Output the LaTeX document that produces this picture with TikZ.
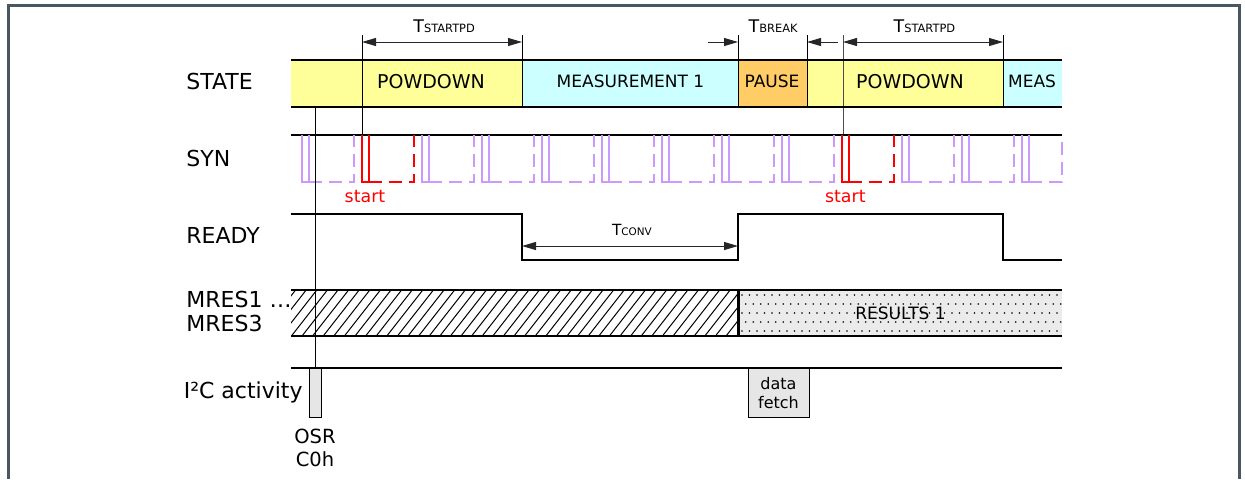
\documentclass[tikz,border=0pt]{standalone}
\usepackage{fontspec}
\setmainfont{DejaVu Sans}
\usetikzlibrary{arrows.meta,positioning}
\definecolor{stateyellow}{RGB}{255,255,153}
\definecolor{statecyan}{RGB}{204,255,255}
\definecolor{stateorange}{RGB}{255,204,102}
\definecolor{synpurple}{RGB}{204,153,255}
\definecolor{framegray}{RGB}{74,86,98}
\definecolor{boxgray}{RGB}{230,230,230}
\newcommand{\tsub}[2][5.7]{T{\fontsize{#1}{6}\selectfont #2}}

\begin{document}
\begin{tikzpicture}[x=0.5pt,y=-0.5pt,
  signame/.style={font=\fontsize{11}{13}\selectfont,anchor=base west,inner sep=0pt},
  phase/.style={font=\fontsize{8.5}{10}\selectfont,anchor=base,inner sep=0pt},
  timing/.style={font=\fontsize{8.7}{10}\selectfont,anchor=base west,inner sep=0pt},
  wave/.style={line width=1.25pt},
  hair/.style={line width=0.5pt},
  dimline/.style={hair,black!85,{Triangle[length=7pt,width=4pt]}-{Triangle[length=7pt,width=4pt]}},
  halfdim/.style={hair,black!85,-{Triangle[length=7pt,width=4pt]}},
  pulse/.style={line width=1.3pt},
  ghost/.style={line width=1.3pt,dash pattern=on 6.5pt off 3.5pt},
  fetchbox/.style={draw,line width=0.5pt,fill=boxgray,inner sep=0pt}]
\useasboundingbox (0,0) rectangle (1245,479);
% frame
\draw[framegray,line width=1.5pt] (8.5,479) -- (8.5,5) -- (1239.5,5) -- (1239.5,479);

% signal names
\node[signame] (lstate) at (186,89) {STATE};
\node[signame] (lsyn) at (186,166.7) {SYN};
\node[signame] (lready) at (186,243) {READY};
\node[signame] (lmres1) at (186,307) {MRES1 …};
\node[signame] (lmres3) at (186,331.7) {MRES3};
\node[signame,anchor=base east] (li2c) at (303,398.3) {I²C activity};

% state bar
\fill[stateyellow] (291,60) rectangle (522,107);
\fill[statecyan] (522,60) rectangle (738,107);
\fill[stateorange] (738,60) rectangle (807,107);
\fill[stateyellow] (807,60) rectangle (1003,107);
\fill[statecyan] (1003,60) rectangle (1062,107);
\foreach \x in {522,738,807,1003}
  \draw[hair] (\x,35) -- (\x,107);
\draw[hair] (362,35) -- (362,135);
\draw[hair,black!70] (843,35) -- (843,135);
\draw[wave] (291,60) -- (1062,60) (291,107) -- (1062,107);
\node[phase,font=\fontsize{9.5}{11}\selectfont] (pd1) at (431,88.3) {POWDOWN};
\node[phase] (meas1) at (630.5,87.3) {MEASUREMENT 1};
\node[phase] (pause) at (772,87.5) {PAUSE};
\node[phase,font=\fontsize{9.5}{11}\selectfont] (pd2) at (910,88.3) {POWDOWN};
\node[phase] (meas2) at (1032,87.5) {MEAS};

% timing marks
\coordinate (pd1a) at (362,42);
\coordinate (pd1b) at (522,42);
\coordinate (brka) at (738,42);
\coordinate (brkb) at (807,42);
\coordinate (pd2a) at (843,42);
\coordinate (pd2b) at (1003,42);
\draw[dimline] (pd1a) -- (pd1b);
\draw[halfdim] (708,42) -- (brka);
\draw[halfdim] (838,42) -- (brkb);
\draw[dimline] (pd2a) -- (pd2b);
\node[timing] (tpd1) at (413,32.7) {\tsub{STARTPD}};
\node[timing] (tbrk) at (748.3,32.7) {\tsub{BREAK}};
\node[timing] (tpd2) at (893.3,32.7) {\tsub{STARTPD}};

% SYN
\draw[wave] (291,135) -- (1062,135);
\foreach \t/\c in {302/synpurple,362/red,422/synpurple,482/synpurple,542/synpurple,
    602/synpurple,662/synpurple,722/synpurple,782/synpurple,842/red,902/synpurple,
    962/synpurple,1022/synpurple}{
  \pgfmathsetmacro\e{min(\t+52,1062)}
  \draw[pulse,\c] (\t,135) -- (\t,182) -- (\t+7,182) -- (\t+7,135);
  \draw[ghost,\c] (\t+7,182) -- (\e,182) -- (\e,135);
}
\node[timing,anchor=base,text=red] (start1) at (365,202.7) {start};
\node[timing,anchor=base,text=red] (start2) at (845.3,202.7) {start};

% READY
\draw[wave] (291,214) -- (522,214) -- (522,260) -- (738,260) -- (738,214)
  -- (1003,214) -- (1003,260) -- (1062,260);
\coordinate (cva) at (522,246);
\coordinate (cvb) at (738,246);
\draw[dimline] (cva) -- (cvb);
\node[timing,font=\fontsize{7.7}{9}\selectfont] (tconv) at (611.6,235) {\tsub[5.2]{CONV}};

% MRES
\begin{scope}
  \clip (291,290) rectangle (738,336);
  \foreach \i in {0,...,48}
    \draw[hair] (231+\i*10.6,359) -- ++(72,-92);
\end{scope}
\begin{scope}
  \clip (738,290) rectangle (1062,336);
  \fill[boxgray!80] (738,290) rectangle (1062,336);
  \foreach \j in {0,...,4}
    \foreach \i in {0,...,43}
      \fill ({742+\i*7.5+mod(\j,2)*3.75},{295+\j*9}) circle[radius=0.4pt];
\end{scope}
\node[phase] (results) at (900.5,319) {RESULTS 1};
\draw[line width=1.5pt] (738,290) -- (738,336);
\draw[wave] (291,290) -- (1062,290) (291,336) -- (1062,336);

% I2C
\draw[wave] (291,368) -- (1062,368);
\node[fetchbox,minimum width=6pt,minimum height=24.5pt,anchor=north] (osrbox) at (315,368) {};
\node[below=5.5pt of osrbox,align=center,inner sep=0pt,font=\fontsize{9.75}{11.15}\selectfont] (osr) {OSR\\C0h};
\node[fetchbox,minimum width=30.5pt,minimum height=24.5pt,anchor=north,align=center,
  font=\fontsize{8}{9.65}\selectfont] (fetch) at (778.5,368) {data\\fetch};
\draw[hair] (315,107) -- (osrbox.north);
\end{tikzpicture}
\end{document}
